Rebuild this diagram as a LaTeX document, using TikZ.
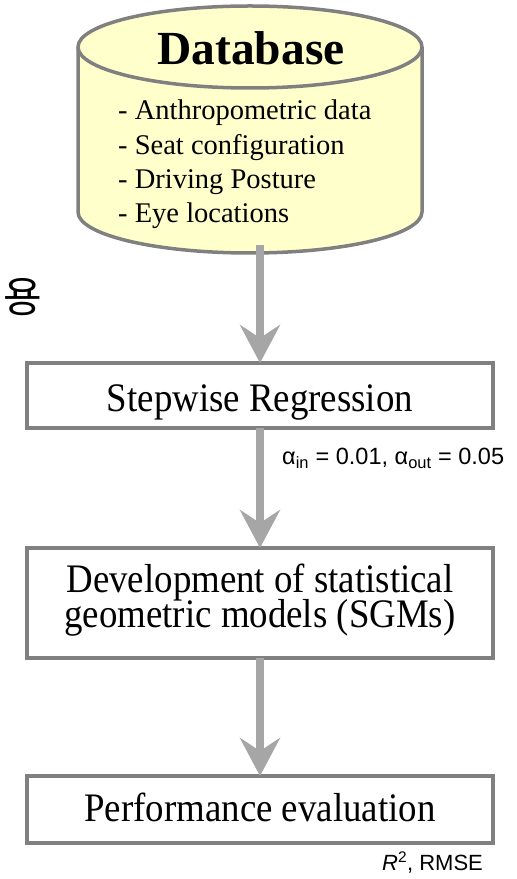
\documentclass[tikz,border=0pt]{standalone}
\usepackage{fontspec}
\setmainfont{Liberation Serif}
\newfontfamily\sansf{Liberation Sans}
\newfontfamily\boxfont[FakeStretch=0.91]{Liberation Serif}
\newfontfamily\krfont{Noto Sans CJK KR}
\usetikzlibrary{arrows.meta}
\definecolor{cylfill}{HTML}{FFFFCC}
\definecolor{edgegray}{HTML}{808080}
\definecolor{arrgray}{HTML}{A6A6A6}
\begin{document}
\begin{tikzpicture}[x=1pt,y=1pt,
  cyl/.style={fill=cylfill, draw=edgegray, line width=3.5pt, line join=round},
  cylrim/.style={draw=edgegray, line width=3.5pt},
  procbox/.style={draw=edgegray, line width=3.5pt, fill=white, minimum width=466pt, inner sep=0pt, outer sep=0pt},
  flowarrow/.style={draw=arrgray, line width=8pt, -{Stealth[length=38pt 0, width=40pt 0, inset=13pt]}},
  boxtext/.style={font=\boxfont\fontsize{40.5}{48}\selectfont, inner sep=0pt, anchor=base},
  dbtitle/.style={font=\bfseries\fontsize{47.5}{56}\selectfont, inner sep=0pt, anchor=base},
  dbitem/.style={font=\fontsize{28.5}{34}\selectfont, inner sep=0pt, anchor=base west},
  sidelabel/.style={font=\sansf\fontsize{22}{26}\selectfont, inner sep=0pt, anchor=base west},
  krglyph/.style={font=\krfont\fontsize{42}{42}\selectfont, inner sep=0pt}
]
\useasboundingbox (0,0) rectangle (517,879);

% database cylinder
\path[cyl] (78,{879-47}) -- (78,{879-212})
  arc[start angle=180, end angle=360, x radius=172pt, y radius=41pt]
  -- (422,{879-47})
  arc[start angle=0, end angle=180, x radius=172pt, y radius=41pt] -- cycle;
\draw[cylrim] (422,{879-47}) arc[start angle=0, end angle=-180, x radius=172pt, y radius=41pt];
\coordinate (dbout) at (260,{879-245});

\node[dbtitle] (dbt) at (251,{879-65}) {Database};
\node[dbitem] (i1) at (118,{879-120}) {- Anthropometric data};
\node[dbitem] (i2) at (118,{879-155}) {- Seat configuration};
\node[dbitem] (i3) at (118,{879-189}) {- Driving Posture};
\node[dbitem] (i4) at (118,{879-223}) {- Eye locations};

\node[krglyph] (kr) at (23,{879-297}) {용};

% process boxes
\node[procbox, minimum height=65pt] (b1) at (260,{879-395.5}) {};
\node[procbox, minimum height=110pt] (b2) at (260,{879-603}) {};
\node[procbox, minimum height=67pt] (b3) at (260,{879-809.5}) {};

\node[boxtext] (t1) at (260,{879-412}) {Stepwise Regression};
\node[boxtext] (t2a) at (260,{879-593}) {Development of statistical};
\node[boxtext] (t2b) at (260,{879-628}) {geometric models (SGMs)};
\node[boxtext] (t3) at (260,{879-822}) {Performance evaluation};

% connectors
\draw[flowarrow] (dbout) -- (b1.north);
\draw[flowarrow] (b1.south) -- (b2.north);
\draw[flowarrow] (b2.south) -- (b3.north);

% side labels
\node[sidelabel, font=\sansf\fontsize{23.5}{28}\selectfont] (alpha) at (282,{879-465}) {α\textsubscript{in} = 0.01, α\textsubscript{out} = 0.05};
\node[sidelabel] (rmse) at (382,{879-870}) {\textit{R}\textsuperscript{2}, RMSE};
\end{tikzpicture}
\end{document}
